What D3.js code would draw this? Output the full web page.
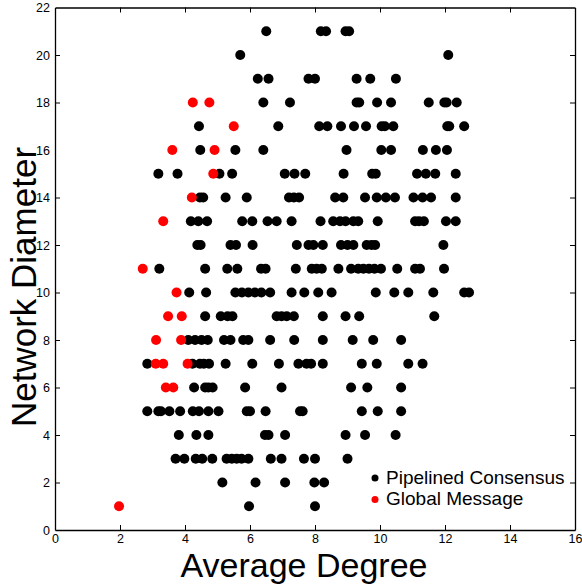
<!DOCTYPE html>
<html>
<head>
<meta charset="utf-8">
<script src="https://cdnjs.cloudflare.com/ajax/libs/d3/7.8.5/d3.min.js"></script>
<style>
  body { margin: 0; background: #fff; }
  svg text { font-family: "Liberation Sans", Arial, sans-serif; fill: #000; }
</style>
</head>
<body>
<div id="chart"></div>
<script>
// Data: [network diameter, [average degrees...]]
const consensusRows = [
  [21, [6.50, 8.18, 8.34, 8.94, 9.05]],
  [20, [5.70, 12.10]],
  [19, [6.24, 6.57, 7.80, 8.00, 9.28, 9.70, 10.49]],
  [18, [6.41, 7.23, 9.28, 9.36, 9.91, 10.34, 11.50, 11.98, 12.05, 12.36]],
  [17, [4.43, 6.87, 8.13, 8.38, 8.80, 9.20, 9.57, 10.05, 10.15, 10.41, 12.07, 12.13, 12.59]],
  [16, [4.47, 5.55, 6.41, 8.97, 10.04, 10.34, 11.32, 11.72, 12.06]],
  [15, [3.18, 3.77, 5.06, 5.45, 7.07, 7.37, 7.70, 8.88, 9.76, 9.87, 11.14, 11.41, 11.70, 12.33]],
  [14, [4.46, 4.56, 5.25, 5.90, 7.20, 7.35, 7.51, 8.62, 8.87, 9.54, 9.90, 10.18, 10.46, 11.03, 11.31, 11.57, 12.33]],
  [13, [4.18, 4.41, 4.68, 5.76, 6.07, 6.54, 6.82, 7.28, 8.17, 8.56, 8.77, 8.94, 9.18, 9.33, 9.93, 11.08, 11.20, 11.35, 12.03, 12.33]],
  [12, [4.38, 4.48, 5.40, 5.57, 6.08, 7.44, 7.80, 7.95, 8.24, 8.80, 9.00, 9.18, 9.59, 9.74, 9.85, 11.95]],
  [11, [3.21, 4.62, 5.30, 5.61, 6.34, 6.48, 7.41, 7.90, 8.05, 8.21, 8.72, 9.11, 9.33, 9.49, 9.66, 9.83, 10.03, 10.53, 11.08, 11.23, 11.97]],
  [10, [4.13, 4.65, 5.55, 5.75, 5.95, 6.15, 6.35, 6.62, 7.28, 7.67, 8.10, 8.51, 9.87, 10.44, 10.87, 11.64, 12.59, 12.74]],
  [9, [4.62, 5.10, 5.31, 5.46, 6.82, 6.97, 7.13, 7.35, 8.24, 8.94, 9.36, 11.67]],
  [8, [4.10, 4.31, 4.51, 4.70, 5.20, 5.40, 5.79, 5.95, 6.62, 7.36, 8.24, 9.16, 9.79, 10.65]],
  [7, [2.84, 4.23, 4.46, 4.58, 4.74, 5.25, 6.07, 6.89, 7.49, 7.74, 7.88, 8.24, 9.44, 9.90, 10.87, 11.31]],
  [6, [4.28, 4.62, 4.72, 4.85, 5.85, 6.97, 9.11, 9.61, 10.65]],
  [5, [2.84, 3.18, 3.26, 3.52, 3.85, 4.24, 4.43, 4.72, 5.03, 5.90, 6.00, 6.48, 7.54, 7.62, 9.44, 9.93, 10.65]],
  [4, [3.81, 4.35, 4.72, 6.46, 6.57, 7.08, 8.94, 9.54, 10.48]],
  [3, [3.71, 3.98, 4.33, 4.53, 4.84, 5.28, 5.44, 5.59, 5.74, 5.95, 6.64, 6.97, 7.66, 8.00, 9.00]],
  [2, [5.15, 6.17, 7.08, 7.98, 8.28]],
  [1, [5.97, 8.00]]
];

const messageRows = [
  [18, [4.24, 4.75]],
  [17, [5.50]],
  [16, [3.61, 4.91]],
  [15, [4.87]],
  [14, [4.21]],
  [13, [3.33]],
  [11, [2.70]],
  [10, [3.74]],
  [9, [3.48, 3.90]],
  [8, [3.11, 3.88]],
  [7, [3.10, 3.33, 4.08]],
  [6, [3.41, 3.64]],
  [1, [1.97]]
];

const seriesNames = ["Pipelined Consensus", "Global Message"];
const seriesColors = ["#000000", "#ff0000"];
const xTicks = [0, 2, 4, 6, 8, 10, 12, 14, 16];
const yTicks = [0, 2, 4, 6, 8, 10, 12, 14, 16, 18, 20, 22];

function flatten(rows) {
  const out = [];
  rows.forEach(function(r) {
    r[1].forEach(function(x) { out.push({x: x, y: r[0]}); });
  });
  return out;
}

const width = 582, height = 584;
const margin = {top: 7.5, right: 7, bottom: 54, left: 55};
const innerW = width - margin.left - margin.right;
const innerH = height - margin.top - margin.bottom;

const x = d3.scaleLinear().domain([0, 16]).range([0, innerW]);
const y = d3.scaleLinear().domain([0, 22]).range([innerH, 0]);

const svg = d3.select("#chart").append("svg")
  .attr("width", width)
  .attr("height", height);

const g = svg.append("g")
  .attr("transform", "translate(" + margin.left + "," + margin.top + ")");

// points
const series = [flatten(consensusRows), flatten(messageRows)];
series.forEach(function(pts, i) {
  g.append("g").selectAll("circle")
    .data(pts)
    .enter()
    .append("circle")
    .attr("cx", function(d) { return x(d.x); })
    .attr("cy", function(d) { return y(d.y); })
    .attr("r", 5)
    .style("fill", seriesColors[i]);
});

// box axes, ticks pointing inward
const tickLen = 5;
g.append("g")
  .attr("transform", "translate(0," + innerH + ")")
  .call(d3.axisBottom(x).tickValues(xTicks).tickSizeInner(-tickLen).tickSizeOuter(0).tickPadding(4))
  .call(function(a) { a.selectAll("text").style("font-size", "12.5px"); });
g.append("g")
  .call(d3.axisTop(x).tickValues(xTicks).tickSizeInner(-tickLen).tickSizeOuter(0).tickFormat(""));
g.append("g")
  .call(d3.axisLeft(y).tickValues(yTicks).tickSizeInner(-tickLen).tickSizeOuter(0).tickPadding(5))
  .call(function(a) { a.selectAll("text").style("font-size", "12.5px"); });
g.append("g")
  .attr("transform", "translate(" + innerW + ",0)")
  .call(d3.axisRight(y).tickValues(yTicks).tickSizeInner(-tickLen).tickSizeOuter(0).tickFormat(""));

g.selectAll(".domain").attr("stroke", "#000").attr("stroke-width", 1.3);
g.selectAll(".tick line").attr("stroke", "#000");
g.selectAll(".tick").filter(function(d) { return d === 0 || d === 16 || d === 22; })
  .select("line").attr("stroke-opacity", 0);

// axis titles
svg.append("text")
  .attr("x", 304)
  .attr("y", 577)
  .attr("text-anchor", "middle")
  .style("font-size", "34px")
  .text("Average Degree");

svg.append("text")
  .attr("transform", "translate(36,287) rotate(-90)")
  .attr("text-anchor", "middle")
  .style("font-size", "35px")
  .text("Network Diameter");

// legend
const legend = svg.append("g");
seriesNames.forEach(function(name, i) {
  const ly = 478 + i * 21.5;
  legend.append("circle")
    .attr("cx", 375).attr("cy", ly).attr("r", 3.5)
    .style("fill", seriesColors[i]);
  legend.append("text")
    .attr("x", 386).attr("y", ly + 5.5)
    .style("font-size", "19px")
    .text(name);
});
</script>
</body>
</html>
